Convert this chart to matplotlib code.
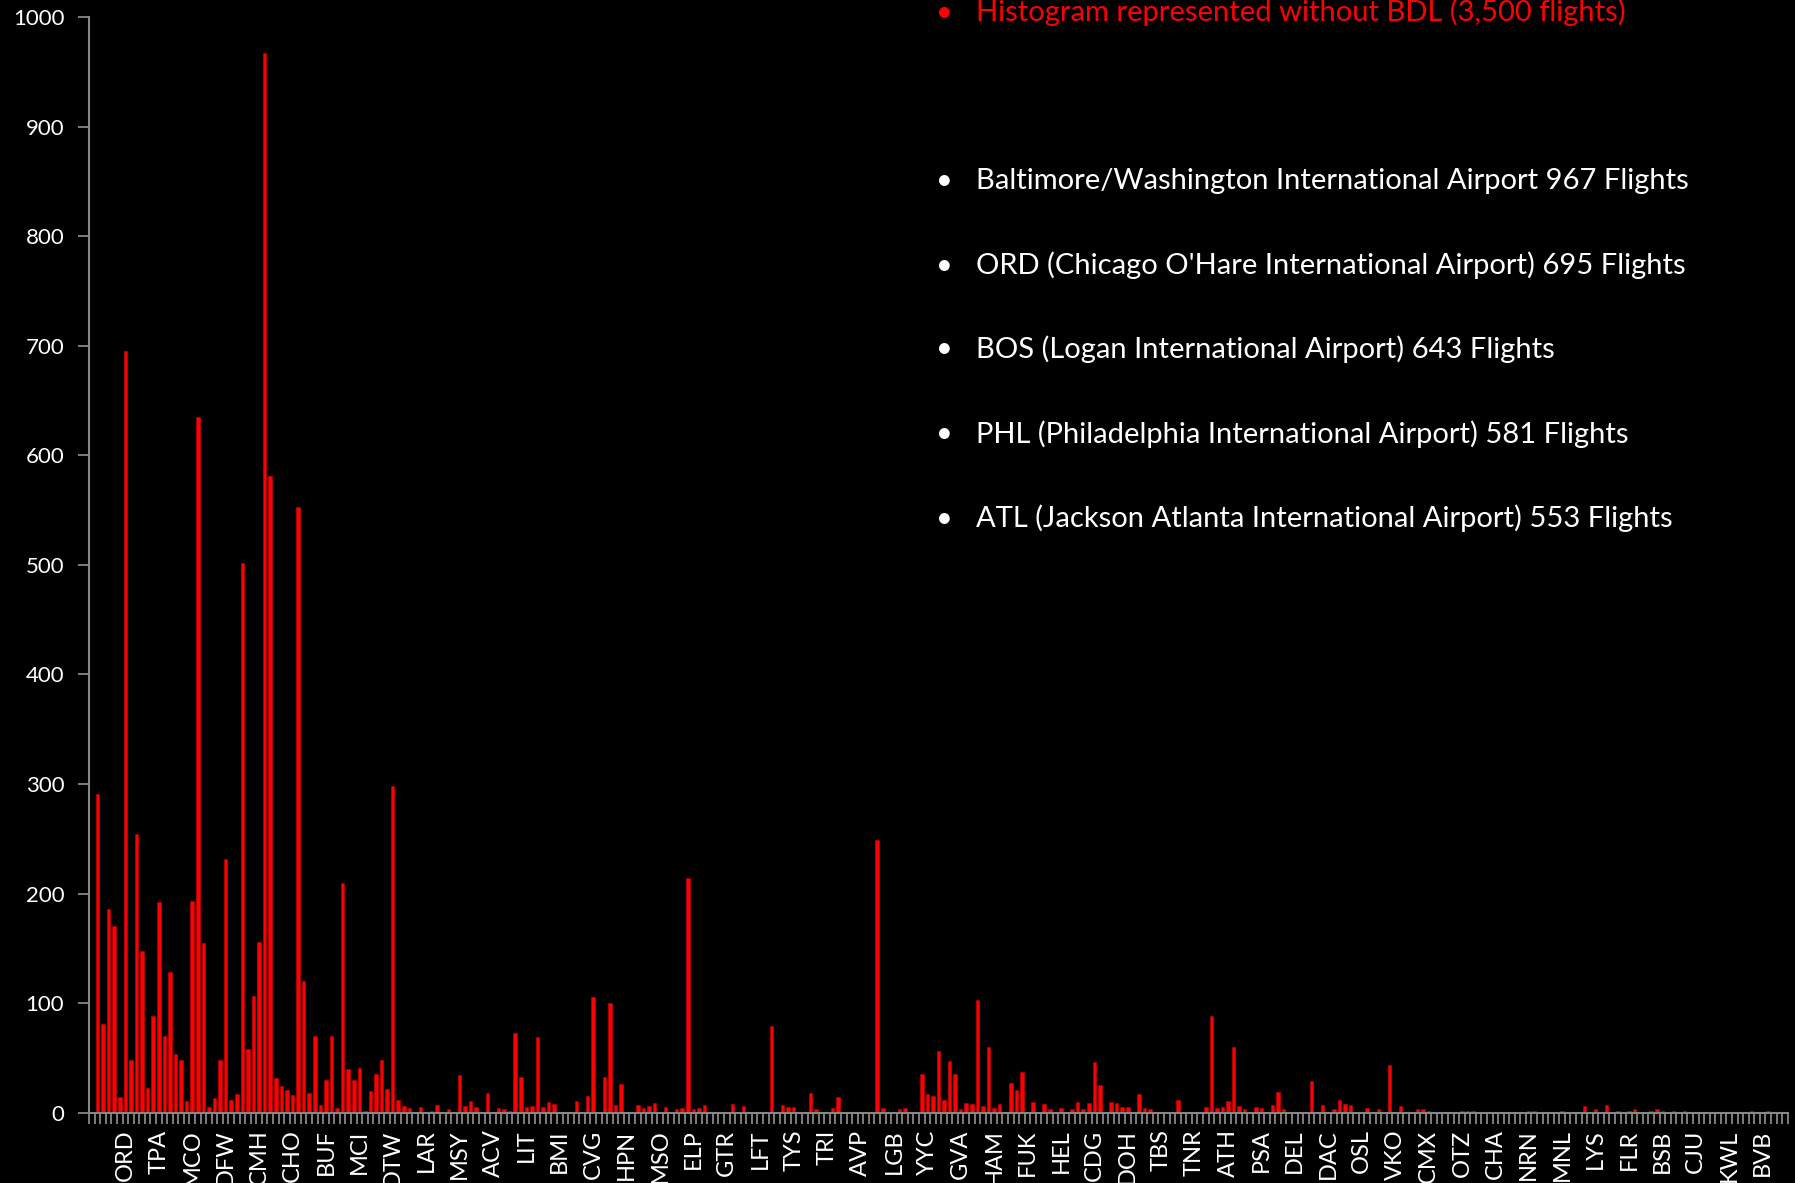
import numpy as np
import matplotlib.pyplot as plt

#==============================================================================
#DATA
#==============================================================================

# flights per destination airport, first slot is BDL (left out -> 0)
flights = [0,
    291,81,186,170,14,695,48,254,148,23,88,192,70,128,54,48,11,193,635,155,
    5,13,48,232,12,17,502,58,107,156,967,581,32,24,21,16,553,120,18,70,
    7,30,70,4,210,40,30,41,2,20,35,48,22,298,12,6,4,1,5,1,
    2,7,1,3,1,34,6,11,5,1,18,1,4,3,2,73,33,5,6,69,
    5,10,8,1,1,1,11,1,15,106,1,33,100,7,26,1,1,7,4,6,
    9,1,5,1,3,4,214,3,4,7,1,1,1,1,8,1,6,1,1,1,
    1,79,1,7,5,5,1,1,18,3,1,1,4,14,1,1,1,1,1,1,
    249,4,1,1,3,4,1,1,35,17,15,56,12,47,35,3,9,8,103,6,
    60,4,8,1,27,21,37,1,10,1,8,3,1,4,1,3,10,3,9,46,
    25,1,10,9,5,5,1,17,4,3,1,1,1,1,12,1,1,1,1,5,
    88,4,5,11,60,6,3,1,5,4,1,7,19,3,1,1,1,1,29,1,
    7,1,3,12,8,7,1,1,4,1,3,1,44,1,6,1,1,3,3,2,
    1,1,1,1,1,2,2,2,1,1,1,1,1,1,1,1,1,2,2,1,
    1,1,1,2,1,1,1,6,1,3,1,7,1,2,1,2,3,1,1,2,
    3,2,1,2,1,2,1,1,1,1,1,1,1,1,1,1,1,2,1,1,
    2,1,1,1]

# every 6th airport code is shown on the axis
tick_labels = ['', 'ORD','TPA','MCO','DFW','CMH','CHO','BUF','MCI','DTW','LAR',
               'MSY','ACV','LIT','BMI','CVG','HPN','MSO','ELP','GTR','LFT',
               'TYS','TRI','AVP','LGB','YYC','GVA','HAM','FUK','HEL','CDG',
               'DOH','TBS','TNR','ATH','PSA','DEL','DAC','OSL','VKO','CMX',
               'OTZ','CHA','NRN','MNL','LYS','FLR','BSB','CJU','KWL','BVB']
label_step = 6

note_red = 'Histogram represented without BDL (3,500 flights)'
notes = ['Baltimore/Washington International Airport 967 Flights',
         "ORD (Chicago O'Hare International Airport) 695 Flights",
         'BOS (Logan International Airport) 643 Flights',
         'PHL (Philadelphia International Airport) 581 Flights',
         'ATL (Jackson Atlanta International Airport) 553 Flights']

#==============================================================================
#SETTINGS
#==============================================================================

plt.rcParams['font.family'] = ['Lato', 'DejaVu Sans']
axis_grey = '#878787'
tick_font = 16
note_font = 21

#==============================================================================
#PLOT
#==============================================================================

f = plt.figure(figsize=(17.95, 11.83), dpi=100, facecolor='black')
ax = f.add_axes([0.0497, 0.0594, 0.9462, 0.9261])
ax.set_facecolor('black')

x = np.arange(len(flights))
ax.bar(x, flights, width=0.64, color='#ff0000', edgecolor='#d00000', linewidth=0.4)

ax.set_xlim(-0.5, len(flights) - 0.5)
ax.set_ylim(0, 1000)
ax.set_yticks(np.arange(0, 1001, 100))

ax.set_xticks(x[::label_step])
ax.set_xticklabels(tick_labels, rotation=90, color='white', fontsize=17)
ax.set_xticks(np.arange(-0.5, len(flights), 1), minor=True)
ax.tick_params(axis='x', which='major', length=0, pad=12)
ax.tick_params(axis='x', which='minor', length=8, width=1.3, color=axis_grey)
ax.tick_params(axis='y', length=8, width=1.3, color=axis_grey,
               labelcolor='white', labelsize=tick_font, pad=10)

for side in ['top', 'right']:
    ax.spines[side].set_visible(False)
for side in ['left', 'bottom']:
    ax.spines[side].set_color(axis_grey)
    ax.spines[side].set_linewidth(1.5)

#notes on the right
f.text(0.526, 1 - 12.6 / 1183, '•', color='#ff0000', fontsize=note_font, va='center', ha='center')
f.text(0.5435, 1 - 12.6 / 1183, note_red, color='#ff0000', fontsize=note_font, va='center')
ys = [181, 265.6, 349, 434, 518.6]
for yy, txt in zip(ys, notes):
    f.text(0.526, 1 - yy / 1183, '•', color='white', fontsize=note_font, va='center', ha='center')
    f.text(0.5435, 1 - yy / 1183, txt, color='white', fontsize=note_font, va='center')

f.savefig('out.png', dpi=100, facecolor='black')
